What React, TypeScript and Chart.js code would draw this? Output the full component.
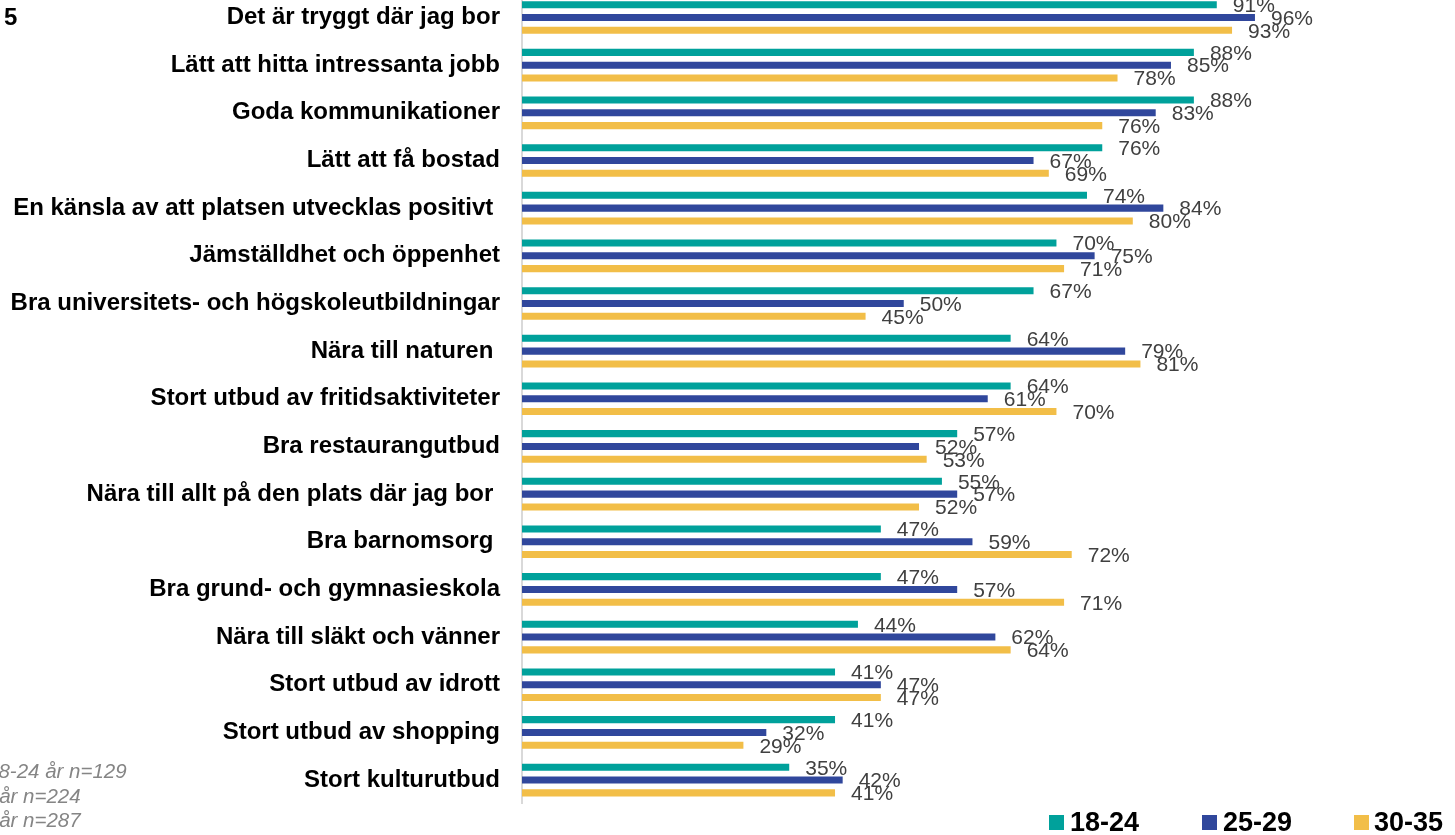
import React, { useEffect, useRef } from "react";
import { Chart, registerables } from "chart.js";

Chart.register(...registerables);

const categories = [
  "Det är tryggt där jag bor",
  "Lätt att hitta intressanta jobb",
  "Goda kommunikationer",
  "Lätt att få bostad",
  "En känsla av att platsen utvecklas positivt ",
  "Jämställdhet och öppenhet",
  "Bra universitets- och högskoleutbildningar",
  "Nära till naturen ",
  "Stort utbud av fritidsaktiviteter",
  "Bra restaurangutbud",
  "Nära till allt på den plats där jag bor ",
  "Bra barnomsorg ",
  "Bra grund- och gymnasieskola",
  "Nära till släkt och vänner",
  "Stort utbud av idrott",
  "Stort utbud av shopping",
  "Stort kulturutbud",
];

const values1824 = [91, 88, 88, 76, 74, 70, 67, 64, 64, 57, 55, 47, 47, 44, 41, 41, 35];
const values2529 = [96, 85, 83, 67, 84, 75, 50, 79, 61, 52, 57, 59, 57, 62, 47, 32, 42];
const values3035 = [93, 78, 76, 69, 80, 71, 45, 81, 70, 53, 52, 72, 71, 64, 47, 29, 41];

const seriesNames = ["18-24", "25-29", "30-35"];
const seriesColors = ["#00A19B", "#30479C", "#F2BE48"];

const noteLines = ["18-24 år n=129", "25-29 år n=224", "30-35 år n=287"];
const pageNumber = "5";

const FONT = "'Liberation Sans', Arial, Helvetica, sans-serif";
const OFFSET_Y = 10; // canvas is shifted up by this many px

const overlayPlugin = {
  id: "overlay",
  afterDatasetsDraw(chart: any) {
    const ctx = chart.ctx;
    ctx.save();
    // value labels
    ctx.font = `21px ${FONT}`;
    ctx.fillStyle = "#404040";
    ctx.textAlign = "left";
    ctx.textBaseline = "middle";
    chart.data.datasets.forEach((ds: any, i: number) => {
      const meta = chart.getDatasetMeta(i);
      meta.data.forEach((bar: any, j: number) => {
        const v = ds.data[j];
        ctx.fillText(`${v}%`, bar.x + 16, bar.y + 1.5);
      });
    });

    // legend
    const boxX = [1049, 1202, 1354];
    const textX = [1070, 1223, 1374];
    const legendY = 822.5 + OFFSET_Y;
    ctx.font = `bold 27px ${FONT}`;
    seriesNames.forEach((name, i) => {
      ctx.fillStyle = seriesColors[i];
      ctx.fillRect(boxX[i], legendY - 7.5, 15, 15);
      ctx.fillStyle = "#000";
      ctx.fillText(name, textX[i], legendY + 1);
    });

    // notes
    ctx.font = `italic 20.5px ${FONT}`;
    ctx.fillStyle = "#858585";
    const noteX = [-13, -59, -59];
    const noteY = [772, 797, 821];
    noteLines.forEach((t, i) => {
      ctx.fillText(t, noteX[i], noteY[i] + OFFSET_Y);
    });

    // page number
    ctx.font = `bold 24px ${FONT}`;
    ctx.fillStyle = "#000";
    ctx.fillText(pageNumber, 4, 18 + OFFSET_Y);
    ctx.restore();
  },
};

export default function App() {
  const canvasRef = useRef<HTMLCanvasElement | null>(null);

  useEffect(() => {
    if (!canvasRef.current) return;
    const datasets = [values1824, values2529, values3035].map((d, i) => ({
      label: seriesNames[i],
      data: d,
      backgroundColor: seriesColors[i],
      borderWidth: 0,
      categoryPercentage: 0.806,
      barPercentage: 0.55,
    }));
    const chart = new Chart(canvasRef.current, {
      type: "bar",
      data: { labels: categories, datasets },
      options: {
        indexAxis: "y",
        responsive: false,
        animation: false,
        devicePixelRatio: 1,
        layout: {
          padding: { top: 3.67, bottom: 31.1, left: 0, right: 169.5 },
        },
        plugins: {
          legend: { display: false },
          tooltip: { enabled: false },
          title: { display: false },
        },
        scales: {
          x: {
            type: "linear",
            min: 0,
            max: 100,
            display: false,
          },
          y: {
            type: "category",
            grid: { display: false, drawTicks: false },
            border: { display: true, color: "#d9d9d9", width: 2 },
            ticks: {
              autoSkip: false,
              padding: 22,
              color: "#000",
              font: { family: FONT, size: 24, weight: "bold" },
            },
            afterFit: (scale: any) => {
              scale.width = 522;
              scale.paddingTop = 0;
              scale.paddingBottom = 0;
            },
          },
        },
      },
      plugins: [overlayPlugin],
    } as any);
    return () => chart.destroy();
  }, []);

  return (
    <div
      style={{
        position: "absolute",
        left: 0,
        top: -OFFSET_Y,
        width: 1455,
        height: 845,
        overflow: "hidden",
      }}
    >
      <canvas ref={canvasRef} width={1455} height={845} style={{ display: "block" }} />
    </div>
  );
}
